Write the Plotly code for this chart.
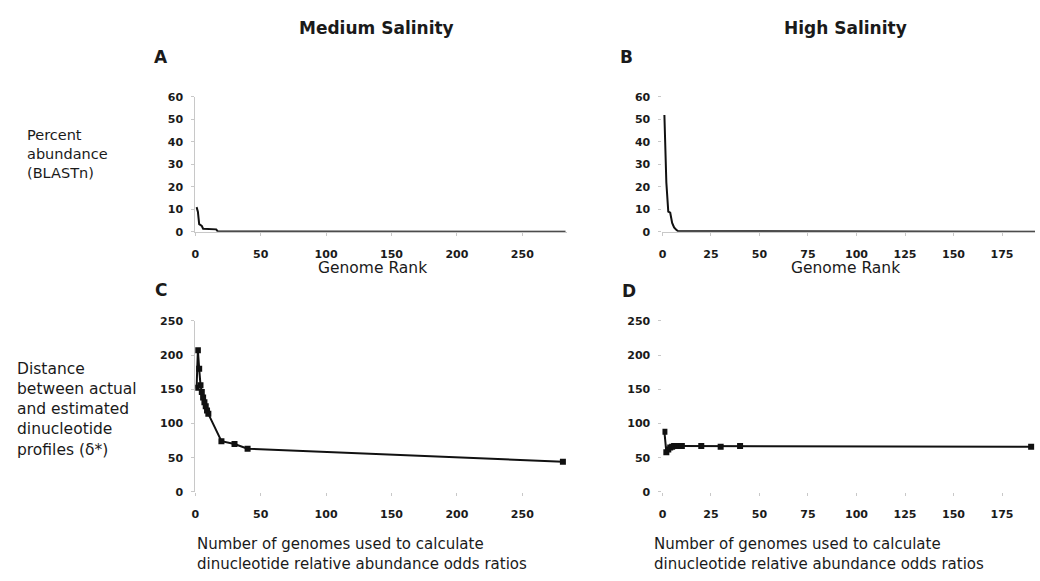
import plotly.graph_objects as go

# ---- data -------------------------------------------------------------
# Panel A: medium salinity, percent abundance by genome rank
a_rank = [1, 2, 3, 4, 5, 6, 8, 10, 12, 14, 16, 17, 20, 24, 29, 283]
a_pct = [11, 9, 3.4, 2.9, 2.6, 1.4, 1.3, 1.3, 1.2, 1.2, 1.1, 0.3, 0.2, 0.2, 0.1, 0]

# Panel B: high salinity, percent abundance by genome rank
b_rank = [1, 2, 3, 4, 5, 6, 7, 8, 192]
b_pct = [52, 22, 9, 8.5, 4, 2, 1, 0.3, 0]

# Panel C: medium salinity, distance vs number of genomes
c_n = [1, 2, 3, 4, 5, 6, 7, 8, 9, 10, 20, 30, 40, 281]
c_dist = [152, 207, 180, 156, 146, 138, 131, 125, 119, 114, 74, 70, 63, 44]

# Panel D: high salinity, distance vs number of genomes
d_n = [1, 2, 3, 4, 5, 6, 7, 8, 9, 10, 20, 30, 40, 190]
d_dist = [88, 58, 62, 65, 66, 67, 67, 67, 67, 67, 67, 66, 67, 66]

rank_ticks_med = [0, 50, 100, 150, 200, 250]
rank_ticks_high = [0, 25, 50, 75, 100, 125, 150, 175]
pct_ticks = [0, 10, 20, 30, 40, 50, 60]
dist_ticks = [0, 50, 100, 150, 200, 250]

# ---- layout helpers ---------------------------------------------------
W, H = 1040, 581
FONT = "DejaVu Sans, Verdana, Arial, sans-serif"
TXT = "#1a1a1a"


def px(x):
    return x / W


def py(y):
    return 1 - y / H


fig = go.Figure()

line = dict(color="#111111", width=2)
fig.add_trace(go.Scatter(x=a_rank, y=a_pct, mode="lines", line=line,
                         xaxis="x", yaxis="y", showlegend=False))
fig.add_trace(go.Scatter(x=b_rank, y=b_pct, mode="lines", line=line,
                         xaxis="x2", yaxis="y2", showlegend=False))
fig.add_trace(go.Scatter(x=c_n, y=c_dist, mode="lines+markers", line=line,
                         marker=dict(symbol="square", size=6, color="#111111"),
                         xaxis="x3", yaxis="y3", showlegend=False))
fig.add_trace(go.Scatter(x=d_n, y=d_dist, mode="lines+markers", line=line,
                         marker=dict(symbol="square", size=6, color="#111111"),
                         xaxis="x4", yaxis="y4", showlegend=False))

tickfont = dict(family=FONT, size=11, color=TXT, weight="bold")


def xaxis(dom, rng, ticks, anchor, showline):
    return dict(domain=dom, range=rng, tickvals=ticks, anchor=anchor,
                showgrid=False, zeroline=False, showline=showline,
                linecolor="#c8c8c8", linewidth=1,
                ticks="outside", ticklen=3, tickcolor="#c8c8c8",
                tickfont=tickfont, ticklabelstandoff=9, fixedrange=True)


def yaxis(dom, rng, ticks, anchor, showline):
    return dict(domain=dom, range=rng, tickvals=ticks, anchor=anchor,
                showgrid=False, zeroline=False, showline=showline,
                linecolor="#c8c8c8", linewidth=1,
                ticks="outside", ticklen=3, tickcolor="#c8c8c8",
                tickfont=tickfont, ticklabelstandoff=6, fixedrange=True)


left_dom = [px(192), px(565)]
right_dom = [px(661), px(1035)]
top_dom = [py(231), py(93)]
bot_dom = [py(497), py(322)]

fig.update_layout(
    width=W, height=H,
    margin=dict(l=0, r=0, t=0, b=0),
    paper_bgcolor="white", plot_bgcolor="white",
    xaxis=xaxis(left_dom, [0, 284], rank_ticks_med, "y", True),
    yaxis=yaxis(top_dom, [0, 60], pct_ticks, "x", True),
    xaxis2=xaxis(right_dom, [0, 192], rank_ticks_high, "y2", True),
    yaxis2=yaxis(top_dom, [0, 60], pct_ticks, "x2", False),
    xaxis3=xaxis(left_dom, [0, 284], rank_ticks_med, "y3", False),
    yaxis3=yaxis(bot_dom, [0, 250], dist_ticks, "x3", True),
    xaxis4=xaxis(right_dom, [0, 192], rank_ticks_high, "y4", False),
    yaxis4=yaxis(bot_dom, [0, 250], dist_ticks, "x4", False),
)


def label(text, x, y, size=15, bold=False, xanchor="left", yanchor="middle",
          align="left"):
    if bold:
        text = "<b>" + text + "</b>"
    fig.add_annotation(text=text, x=px(x), y=py(y), xref="paper", yref="paper",
                       xanchor=xanchor, yanchor=yanchor, align=align,
                       showarrow=False, borderpad=0,
                       font=dict(family=FONT, size=size, color=TXT))


# column headings
label("Medium Salinity", 374, 23, size=17, bold=True, xanchor="center")
label("High Salinity", 845, 23, size=17, bold=True, xanchor="center")

# panel letters
label("A", 150, 52, size=17, bold=True)
label("B", 617, 52, size=17, bold=True)
label("C", 151, 291, size=17, bold=True)
label("D", 619, 292, size=17, bold=True)

# x-axis titles
label("Genome Rank", 370, 268, size=15.5, xanchor="center")
label("Genome Rank", 845, 268, size=15.5, xanchor="center")
x_title = "Number of genomes used to calculate<br>dinucleotide relative abundance odds ratios"
label(x_title, 193, 561, size=15)
label(x_title, 652, 561, size=15)

# row labels
label("Percent<br>abundance<br>(BLASTn)", 22, 151, size=14.5)
label("Distance<br>between actual<br>and estimated<br>dinucleotide<br>profiles (δ*)",
      12, 413, size=15.5)

fig.write_html("out.html")
